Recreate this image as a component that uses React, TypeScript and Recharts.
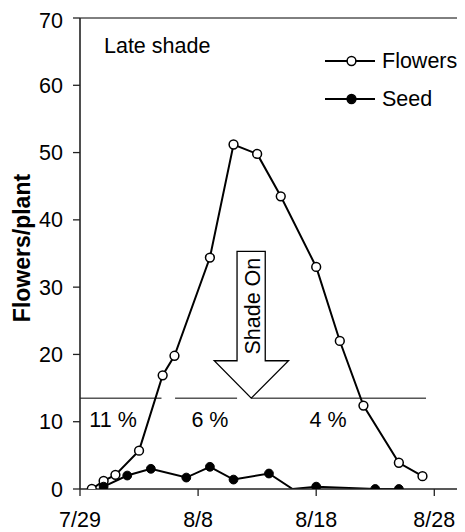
import React from 'react';
import { LineChart, Line, XAxis, YAxis, ReferenceLine, ReferenceDot, Legend } from 'recharts';

const flowerDays = [1, 2, 3, 5, 7, 8, 11, 13, 15, 17, 20, 22, 24, 27, 29];
const flowerValues = [0, 1.2, 2.1, 5.7, 16.9, 19.8, 34.4, 51.2, 49.8, 43.5, 33.0, 22.0, 12.4, 3.9, 1.9];
const seedDays = [2, 4, 6, 9, 11, 13, 16, 18, 20, 25, 27];
const seedValues = [0.35, 2.0, 3.0, 1.7, 3.3, 1.4, 2.3, 0, 0.35, 0, 0];
const seedDaysWithoutMarker = [18];

const xTickDays = [0, 10, 20, 30];
const xTickLabels = ['7/29', '8/8', '8/18', '8/28'];
const yTicks = [0, 10, 20, 30, 40, 50, 60, 70];

const shadeLevel = 13.5;
const shadeSegments = [
  [0, 6.9],
  [8.05, 13.3],
  [14.5, 29.3],
];
const shadeLabels = ['11 %', '6 %', '4 %'];
const shadeLabelDays = [2.8, 11, 21];
const shadeLabelLevel = 10.3;
const arrowDay = 14.5;
const arrowText = 'Shade On';
const panelTitle = 'Late shade';
const panelTitleDay = 2.03;
const panelTitleLevel = 66.0;
const yLabel = 'Flowers/plant';

const legendItems = [
  { name: 'Flowers', fill: '#fff' },
  { name: 'Seed', fill: '#000' },
];

const flowerData = flowerDays.map((d, i) => ({ day: d, flowers: flowerValues[i] }));
const seedData = seedDays.map((d, i) => ({ day: d, seed: seedValues[i] }));

const FONT = '"Liberation Sans", Arial, Helvetica, sans-serif';
const FS = 21.5;

const ArrowShape = (props: any) => {
  const { cx, cy } = props;
  const pts = [
    [cx - 14.2, cy - 146.7],
    [cx + 14, cy - 146.7],
    [cx + 14, cy - 37.4],
    [cx + 37.3, cy - 37.4],
    [cx, cy],
    [cx - 37, cy - 37.4],
    [cx - 14.2, cy - 37.4],
  ]
    .map((p) => p.join(','))
    .join(' ');
  const tx = cx + 9;
  const ty = cy - 92;
  return (
    <g>
      <polygon points={pts} fill="#fff" stroke="#000" strokeWidth={1.3} />
      <text
        x={tx}
        y={ty}
        textAnchor="middle"
        transform={`rotate(-90, ${tx}, ${ty})`}
        fontSize={FS}
        fontFamily={FONT}
        fill="#000"
      >
        {arrowText}
      </text>
    </g>
  );
};

const makeTextShape = (txt: string, anchor: 'start' | 'middle') => (props: any) => (
  <text
    x={props.cx}
    y={props.cy}
    dy="0.36em"
    textAnchor={anchor}
    fontSize={FS}
    fontFamily={FONT}
    fill="#000"
  >
    {txt}
  </text>
);

const SeedDot = (p: any) => {
  const k = `sd-${p.index}`;
  if (seedDaysWithoutMarker.includes(p.payload?.day)) return <g key={k} />;
  return <circle key={k} cx={p.cx} cy={p.cy} r={4.4} fill="#000" stroke="#000" strokeWidth={1} />;
};

const LegendContent = () => (
  <div style={{ fontFamily: FONT, fontSize: FS, color: '#000' }}>
    {legendItems.map((it) => (
      <div key={it.name} style={{ display: 'flex', alignItems: 'center', height: 38, lineHeight: '38px' }}>
        <svg width={50} height={38} style={{ display: 'block' }}>
          <line x1={0} y1={19} x2={50} y2={19} stroke="#000" strokeWidth={2} />
          <circle cx={26.5} cy={19} r={4.4} fill={it.fill} stroke="#000" strokeWidth={1.5} />
        </svg>
        <span style={{ marginLeft: 7, whiteSpace: 'nowrap' }}>{it.name}</span>
      </div>
    ))}
  </div>
);

const YLabel = (props: any) => {
  const vb = props.viewBox || {};
  const x = (vb.x ?? 0) + 14;
  const y = (vb.y ?? 10) + (vb.height ?? 471) / 2 - 5.5;
  return (
    <text
      x={x}
      y={y}
      dy="0.36em"
      textAnchor="middle"
      transform={`rotate(-90, ${x}, ${y})`}
      fontSize={23}
      fontWeight="bold"
      fontFamily={FONT}
      fill="#000"
    >
      {yLabel}
    </text>
  );
};

export default function App() {
  return (
    <div style={{ width: 457, height: 524, fontFamily: FONT }}>
      <LineChart width={457} height={524} margin={{ top: 10, right: 0, bottom: 0, left: 0 }}>
        <XAxis
          type="number"
          dataKey="day"
          domain={[0, 32.6]}
          ticks={xTickDays}
          tickFormatter={(v: number) => xTickLabels[xTickDays.indexOf(v)] ?? ''}
          height={43}
          tickSize={7}
          tickMargin={16}
          allowDataOverflow
          axisLine={{ stroke: '#222', strokeWidth: 1.6 }}
          tickLine={{ stroke: '#222', strokeWidth: 1.3 }}
          tick={{ fill: '#000', fontSize: FS, fontFamily: FONT }}
        />
        <YAxis
          type="number"
          domain={[0, 70]}
          ticks={yTicks}
          width={72}
          tickSize={7}
          tickMargin={10}
          allowDataOverflow
          axisLine={{ stroke: '#222', strokeWidth: 1.6 }}
          tickLine={{ stroke: '#222', strokeWidth: 1.3 }}
          tick={{ fill: '#000', fontSize: FS, fontFamily: FONT }}
          label={<YLabel />}
        />
        <ReferenceLine y={70} stroke="#000" strokeWidth={1} />
        {shadeSegments.map((s, i) => (
          <ReferenceLine
            key={`seg-${i}`}
            segment={[
              { x: s[0], y: shadeLevel },
              { x: s[1], y: shadeLevel },
            ]}
            stroke="#000"
            strokeWidth={1}
          />
        ))}
        {shadeLabels.map((t, i) => (
          <ReferenceDot
            key={`lab-${i}`}
            x={shadeLabelDays[i]}
            y={shadeLabelLevel}
            r={0}
            shape={makeTextShape(t, 'middle')}
          />
        ))}
        <ReferenceDot x={panelTitleDay} y={panelTitleLevel} r={0} shape={makeTextShape(panelTitle, 'start')} />
        <ReferenceDot x={arrowDay} y={shadeLevel} r={0} shape={ArrowShape} />
        <Line
          data={flowerData}
          dataKey="flowers"
          name="Flowers"
          type="linear"
          stroke="#000"
          strokeWidth={2}
          dot={{ r: 4.4, fill: '#fff', stroke: '#000', strokeWidth: 1.5 }}
          isAnimationActive={false}
        />
        <Line
          data={seedData}
          dataKey="seed"
          name="Seed"
          type="linear"
          stroke="#000"
          strokeWidth={2}
          dot={SeedDot}
          isAnimationActive={false}
        />
        <Legend
          layout="vertical"
          align="center"
          verticalAlign="middle"
          wrapperStyle={{ left: 317, top: 34, width: 140, height: 76 }}
          content={<LegendContent />}
        />
      </LineChart>
    </div>
  );
}
